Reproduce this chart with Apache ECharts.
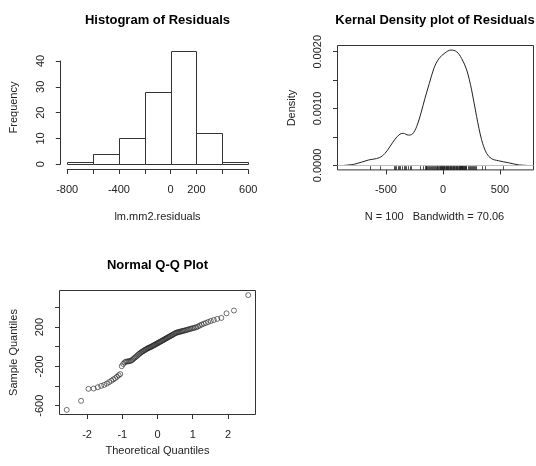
<!DOCTYPE html>
<html><head><meta charset="utf-8">
<script src="https://cdn.jsdelivr.net/npm/echarts@6/dist/echarts.min.js"></script>
<style>html,body{margin:0;padding:0;background:#fff}#c{width:536px;height:466px}</style>
</head><body><div id="c"></div>
<script>
// ---------- Histogram ----------
const histBreaks = [-800, -600, -400, -200, 0, 200, 400, 600];
const histCounts = [1, 4, 10, 28, 44, 12, 1];
const histXTicks = [-800, -600, -400, -200, 0, 200, 400, 600];
const histXLabels = [-800, -400, 0, 200, 600];
const histYTicks = [0, 10, 20, 30, 40];

// ---------- Kernel density ----------
const densX = [-866, -772, -655, -559, -509, -465, -421, -377, -348, -304, -269, -231, -193, -158, -120, -79, -35, 18, 70, 120, 164, 208, 251, 295, 339, 383, 427, 485, 573, 661, 734];
const densY = [0, 0.000023, 0.000093, 0.000134, 0.00021, 0.00033, 0.00046, 0.00055, 0.000563, 0.000533, 0.00055, 0.00068, 0.00092, 0.00118, 0.00144, 0.00171, 0.00188, 0.00198, 0.00203, 0.0020, 0.00188, 0.00168, 0.00133, 0.00086, 0.00045, 0.00021, 0.000117, 0.000082, 0.000046, 0.00001, 0];
const densXTicks = [-500, 0, 500];
const densYTicks = [0, 0.0005, 0.001, 0.0015, 0.002];
const densYLabels = [0, 0.001, 0.002];

// ---------- Q-Q plot (sorted residuals vs normal quantiles) ----------
const residuals = [-642, -550, -428, -425, -412, -398, -388, -375, -360, -346,
  -332, -320, -305, -290, -278, -198, -175, -160, -152, -150,
  -148, -146, -143, -135, -125, -115, -107, -98, -88, -78,
  -70, -62, -55, -48, -42, -36, -30, -25, -19, -14,
  -10, -6, -2, 3, 8, 13, 18, 23, 28, 33,
  38, 43, 48, 53, 58, 63, 68, 73, 79, 84,
  89, 95, 100, 105, 110, 116, 121, 127, 133, 139,
  143, 146, 149, 152, 155, 158, 161, 164, 167, 170,
  174, 178, 182, 186, 190, 194, 198, 206, 216, 225,
  234, 242, 252, 262, 272, 283, 293, 340, 368, 525];
const theoNeg = [-2.5758, -2.1701, -1.9600, -1.8119, -1.6954, -1.5982, -1.5141, -1.4395, -1.3722, -1.3106,
  -1.2536, -1.2004, -1.1503, -1.1031, -1.0581, -1.0152, -0.9741, -0.9346, -0.8965, -0.8596,
  -0.8239, -0.7892, -0.7554, -0.7225, -0.6903, -0.6588, -0.6280, -0.5978, -0.5681, -0.5388,
  -0.5101, -0.4817, -0.4538, -0.4261, -0.3989, -0.3719, -0.3451, -0.3186, -0.2924, -0.2663,
  -0.2404, -0.2147, -0.1891, -0.1637, -0.1383, -0.1130, -0.0878, -0.0627, -0.0376, -0.0125];
const theoQuantiles = theoNeg.concat(theoNeg.slice().reverse().map(v => -v));
const qqXTicks = [-2, -1, 0, 1, 2];
const qqYTicks = [-600, -400, -200, 0, 200, 400];
const qqYLabels = [-600, -200, 200];

// ---------- styling ----------
const FONT = '"Liberation Sans", Arial, sans-serif';
const LINE = '#333';
const TXT = '#222';

function xAx(grid, min, max, ticks, labels, extra) {
  return Object.assign({
    type: 'value', gridIndex: grid, min: min, max: max, position: 'bottom',
    axisLine: { show: false, onZero: false, lineStyle: { color: LINE, width: 1 } },
    axisTick: { show: true, customValues: ticks, length: 4.5, lineStyle: { color: LINE, width: 1 } },
    axisLabel: { show: true, customValues: labels, margin: 15, fontSize: 11, fontFamily: FONT, color: TXT },
    splitLine: { show: false }
  }, extra || {});
}
function yAx(grid, min, max, ticks, labels, fmt, extra) {
  return Object.assign({
    type: 'value', gridIndex: grid, min: min, max: max, position: 'left',
    axisLine: { show: false, onZero: false, lineStyle: { color: LINE, width: 1 } },
    axisTick: { show: true, customValues: ticks, length: 4.5, lineStyle: { color: LINE, width: 1 } },
    axisLabel: { show: true, customValues: labels, rotate: 90, margin: 14, fontSize: 11, fontFamily: FONT, color: TXT, formatter: fmt },
    splitLine: { show: false }
  }, extra || {});
}

function txt(text, x, y, bold, rot) {
  return {
    type: 'text', x: x, y: y, rotation: rot ? Math.PI / 2 : 0,
    style: {
      text: text, font: (bold ? 'bold 13px ' : '11px ') + FONT, fill: bold ? '#000' : TXT,
      textAlign: 'center', textVerticalAlign: 'middle', align: 'center', verticalAlign: 'middle'
    }
  };
}

const chart = echarts.init(document.getElementById('c'), null, { renderer: 'canvas' });
chart.setOption({
  animation: false,
  backgroundColor: '#fff',
  grid: [
    { left: 67.2, top: 61, width: 181, height: 103.3, show: false, outerBoundsMode: 'none', containLabel: false },
    { left: 337.5, top: 45.5, width: 196, height: 124.4, show: true, borderColor: LINE, borderWidth: 1, backgroundColor: 'transparent', outerBoundsMode: 'none', containLabel: false },
    { left: 59.5, top: 290.5, width: 196, height: 124, show: true, borderColor: LINE, borderWidth: 1, backgroundColor: 'transparent', outerBoundsMode: 'none', containLabel: false }
  ],
  xAxis: [
    xAx(0, -800, 600, histXTicks, histXLabels, { interval: 200, offset: 5.2, axisLine: { show: true, onZero: false, lineStyle: { color: LINE, width: 1 } } }),
    xAx(1, -925, 794, densXTicks, densXTicks),
    xAx(2, -2.782, 2.782, qqXTicks, qqXTicks)
  ],
  yAxis: [
    yAx(0, 0, 40, histYTicks, histYTicks, null, { interval: 10, offset: 6.9, axisLine: { show: true, onZero: false, lineStyle: { color: LINE, width: 1 } } }),
    yAx(1, -0.00008, 0.00211, densYTicks, densYLabels, v => Number(v).toFixed(4)),
    yAx(2, -689, 572, qqYTicks, qqYLabels, null)
  ],
  graphic: {
    elements: [
      txt('Histogram of Residuals', 157.5, 20, true),
      txt('lm.mm2.residuals', 157.5, 217, false),
      txt('Frequency', 13.5, 107.5, false, true),
      txt('Kernal Density plot of Residuals', 435, 20, true),
      txt('N = 100   Bandwidth = 70.06', 434.5, 217, false),
      txt('Density', 291.5, 108, false, true),
      txt('Normal Q-Q Plot', 157.5, 265, true),
      txt('Theoretical Quantiles', 157.5, 451, false),
      txt('Sample Quantiles', 14, 352.5, false, true)
    ]
  },
  series: [
    {
      type: 'custom', xAxisIndex: 0, yAxisIndex: 0, clip: false,
      data: histCounts.map((c, i) => [histBreaks[i], histBreaks[i + 1], c]),
      renderItem: function (params, api) {
        const p0 = api.coord([api.value(0), api.value(2)]);
        const p1 = api.coord([api.value(1), 0]);
        return {
          type: 'rect',
          shape: { x: Math.round(p0[0]) + 0.5, y: Math.round(p0[1]) + 0.5, width: Math.round(p1[0]) - Math.round(p0[0]), height: Math.round(p1[1]) - Math.round(p0[1]) },
          style: { fill: '#fff', stroke: LINE, lineWidth: 1 }
        };
      }
    },
    {
      type: 'line', xAxisIndex: 1, yAxisIndex: 1, smooth: 0.35, showSymbol: false, symbol: 'none',
      lineStyle: { color: '#222', width: 1 },
      data: densX.map((x, i) => [x, densY[i]]),
      markLine: {
        silent: true, symbol: ['none', 'none'], label: { show: false },
        lineStyle: { color: '#bdbdbd', width: 1, type: 'solid' },
        data: [{ yAxis: 0 }]
      },
      z: 3
    },
    {
      type: 'custom', xAxisIndex: 1, yAxisIndex: 1, clip: false,
      data: residuals.map(v => [v, 0]),
      renderItem: function (params, api) {
        const p = api.coord([api.value(0), 0]);
        const bottom = params.coordSys.y + params.coordSys.height;
        const x = Math.round(p[0]) + 0.5;
        return { type: 'line', shape: { x1: x, y1: bottom, x2: x, y2: bottom - 3.7 }, style: { stroke: '#222', lineWidth: 0.8 } };
      },
      z: 4
    },
    {
      type: 'scatter', xAxisIndex: 2, yAxisIndex: 2, symbol: 'circle', symbolSize: 5,
      itemStyle: { color: 'rgba(0,0,0,0)', borderColor: '#222', borderWidth: 0.8 },
      data: theoQuantiles.map((t, i) => [t, residuals[i]])
    }
  ]
});
</script>
</body></html>
